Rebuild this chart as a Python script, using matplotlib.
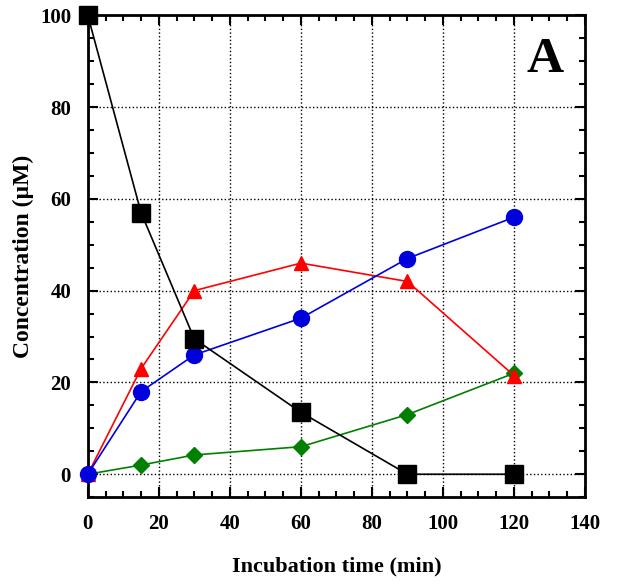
import matplotlib
matplotlib.use('Agg')
import matplotlib.pyplot as plt
from matplotlib.ticker import MultipleLocator

plt.rcParams['font.family'] = ['Liberation Serif', 'DejaVu Serif']
plt.rcParams['font.weight'] = 'bold'

# data
time = [0, 15, 30, 60, 90, 120]
black_sq = [100, 57, 29.5, 13.5, 0, 0]
red_tri = [0, 23, 40, 46, 42, 21.5]
blue_circ = [0, 18, 26, 34, 47, 56]
green_dia = [0, 2, 4.2, 6, 13, 22]

fig = plt.figure(figsize=(6.27, 5.87), dpi=100)
ax = fig.add_axes([0.140, 0.153, 0.793, 0.821])

ax.plot(time, green_dia, color='green', marker='D', markersize=8.5, lw=1.2, zorder=3, clip_on=False)
ax.plot(time, red_tri, color='red', marker='^', markersize=10.5, lw=1.2, zorder=4, clip_on=False)
ax.plot(time, blue_circ, color='#0000dd', marker='o', markersize=11.5, lw=1.2, zorder=5, clip_on=False)
ax.plot(time, black_sq, color='black', marker='s', markersize=13, lw=1.2, zorder=6, clip_on=False)

ax.set_xlim(0, 140)
ax.set_ylim(-5, 100)
ax.xaxis.set_major_locator(MultipleLocator(20))
ax.xaxis.set_minor_locator(MultipleLocator(5))
ax.yaxis.set_major_locator(MultipleLocator(20))
ax.yaxis.set_minor_locator(MultipleLocator(5))
ax.tick_params(which='both', direction='in', top=True, right=True, width=1.5)
ax.tick_params(which='major', length=7, labelsize=15, pad=12)
ax.tick_params(which='minor', length=4)
ax.grid(True, which='major', color='black', linestyle=':', linewidth=1)
for s in ax.spines.values():
    s.set_linewidth(2)

ax.set_xlabel('Incubation time (min)', fontsize=16, fontweight='bold', labelpad=16)
ax.set_ylabel('Concentration (\u00b5M)', fontsize=17, fontweight='bold', labelpad=4)
ax.text(0.958, 0.955, 'A', transform=ax.transAxes, fontsize=37, fontweight='bold',
        ha='right', va='top')

fig.savefig('out.png', dpi=100)
